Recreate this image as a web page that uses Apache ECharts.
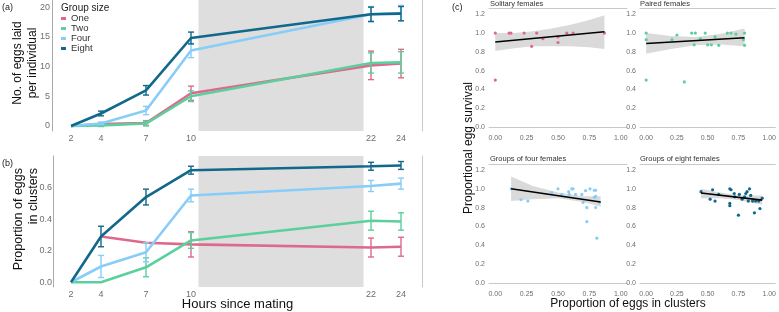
<!DOCTYPE html>
<html>
<head>
<meta charset="utf-8">
<title>Egg laying and clustering by group size</title>
<script src="https://cdn.jsdelivr.net/npm/echarts@6/dist/echarts.min.js"></script>
<style>
  html, body { margin: 0; padding: 0; background: #fff; }
  #main { width: 779px; height: 312px; }
</style>
</head>
<body>
<div id="main"></div>
<script>
// ---- data (a) and (b) ----
var hours = [2, 4, 7, 10, 22, 24];
var hourTicks = [2, 4, 7, 10, 22, 24];
var groups = ['One', 'Two', 'Four', 'Eight'];
var colors = ['#dd6a8d', '#5ccf9c', '#87cdf7', '#11688a'];
var shadeFrom = 10.5, shadeTo = 21.5;

// (a) no. of eggs laid per individual, mean and s.e.
var eggsOne   = [0, 0.3, 0.5, 5.5, 10.2, 10.5];
var eggsTwo   = [0, 0.1, 0.4, 5.0, 10.6, 10.7];
var eggsFour  = [0, 0.4, 2.6, 12.7, 18.8, 19.0];
var eggsEight = [0, 2.1, 6.0, 14.8, 18.8, 18.9];
var eggsErrOne   = [0, 0.3, 0.4, 1.2, 2.4, 2.4];
var eggsErrTwo   = [0, 0.2, 0.4, 0.9, 1.7, 1.8];
var eggsErrFour  = [0, 0.2, 0.7, 1.2, 1.3, 1.3];
var eggsErrEight = [0, 0.4, 0.8, 1.0, 1.2, 1.2];
var eggTicks = [0, 5, 10, 15, 20];

// (b) proportion of eggs in clusters, mean and s.e.
var propOne   = [null, 0.29, 0.25, 0.24, 0.22, 0.225];
var propTwo   = [0, 0, 0.095, 0.265, 0.39, 0.385];
var propFour  = [0, 0.10, 0.19, 0.55, 0.61, 0.625];
var propEight = [0, 0.29, 0.54, 0.71, 0.735, 0.74];
var propErrOne   = [null, 0, 0, 0.08, 0.06, 0.06];
var propErrTwo   = [0, 0, 0.06, 0.05, 0.06, 0.055];
var propErrFour  = [0, 0.07, 0.06, 0.04, 0.035, 0.035];
var propErrEight = [0, 0.065, 0.05, 0.025, 0.025, 0.025];
var propTicks = [0, 0.2, 0.4, 0.6];

// ---- data (c) ----
var facetTitles = ['Solitary females', 'Paired females', 'Groups of four females', 'Groups of eight females'];
var survTicks = [0, 0.2, 0.4, 0.6, 0.8, 1.0, 1.2];
var clusTicks = [0, 0.25, 0.5, 0.75, 1];

var soloX = [0, 0, 0.11, 0.125, 0.23, 0.29, 0.33, 0.38, 0.50, 0.50, 0.57, 0.62, 0.87];
var soloY = [1.0, 0.5, 1.0, 1.0, 1.0, 0.86, 1.0, 0.94, 0.96, 0.90, 1.0, 1.0, 1.0];
var pairX = [0, 0, 0, 0.21, 0.25, 0.31, 0.37, 0.40, 0.39, 0.44, 0.48, 0.50, 0.53, 0.56, 0.59, 0.66, 0.69, 0.73, 0.80, 0.79, 0.80];
var pairY = [1.0, 0.93, 0.50, 0.93, 0.98, 0.48, 1.0, 1.0, 0.875, 0.94, 1.0, 0.875, 0.875, 0.96, 0.87, 1.0, 1.0, 0.99, 1.0, 0.93, 0.87];
var fourX = [0.126, 0.205, 0.26, 0.45, 0.50, 0.53, 0.585, 0.59, 0.61, 0.62, 0.64, 0.69, 0.70, 0.72, 0.73, 0.73, 0.755, 0.79, 0.80, 0.79, 0.80, 0.80, 0.81, 0.83];
var fourY = [1.0, 0.886, 0.87, 0.96, 1.0, 0.94, 0.97, 0.94, 1.0, 1.0, 0.94, 0.94, 0.855, 0.98, 0.80, 0.65, 1.0, 0.985, 0.985, 0.91, 0.92, 0.80, 0.475, 0.855];
var eightX = [0.446, 0.52, 0.54, 0.56, 0.59, 0.68, 0.69, 0.68, 0.68, 0.716, 0.72, 0.75, 0.757, 0.78, 0.80, 0.81, 0.82, 0.84, 0.83, 0.85, 0.865, 0.88, 0.89, 0.915, 0.925, 0.943];
var eightY = [0.97, 0.89, 0.99, 0.87, 0.94, 1.0, 0.99, 0.845, 0.82, 0.95, 0.915, 0.72, 0.94, 0.89, 0.915, 0.95, 0.97, 1.0, 0.87, 0.93, 0.87, 0.745, 0.87, 0.87, 0.79, 0.90];

// fitted lines (end points) and confidence bands
var soloFitX = [0, 0.87],      soloFitY = [0.905, 1.015];
var pairFitX = [0, 0.8],       pairFitY = [0.89, 0.95];
var fourFitX = [0.126, 0.84],  fourFitY = [1.0, 0.86];
var eightFitX = [0.446, 0.943], eightFitY = [0.955, 0.88];

var soloBandX = [0, 0.15, 0.3, 0.45, 0.6, 0.75, 0.87];
var soloBandLo = [0.81, 0.84, 0.86, 0.86, 0.86, 0.85, 0.83];
var soloBandHi = [1.00, 1.00, 1.02, 1.05, 1.09, 1.14, 1.19];
var pairBandX = [0, 0.2, 0.4, 0.6, 0.8];
var pairBandLo = [0.78, 0.83, 0.87, 0.88, 0.86];
var pairBandHi = [1.00, 0.97, 0.96, 0.99, 1.05];
var fourBandX = [0.126, 0.3, 0.5, 0.7, 0.84];
var fourBandLo = [0.87, 0.89, 0.90, 0.86, 0.81];
var fourBandHi = [1.13, 1.03, 0.96, 0.92, 0.92];
var eightBandX = [0.446, 0.6, 0.75, 0.943];
var eightBandLo = [0.90, 0.90, 0.88, 0.83];
var eightBandHi = [1.00, 0.96, 0.93, 0.93];

// ---- chart ----
var chart = echarts.init(document.getElementById('main'), null, {renderer: 'canvas'});
var FONT = '"Liberation Sans", Arial, sans-serif';
var tickGrey = '#6e6e6e';
var lineGrey = '#c8c8c8';

function pairs(xs, ys) {
  var out = [];
  for (var i = 0; i < xs.length; i++) {
    if (ys[i] !== null) out.push([xs[i], ys[i]]);
  }
  return out;
}
function triples(xs, ys, es) {
  var out = [];
  for (var i = 0; i < xs.length; i++) {
    if (ys[i] !== null) out.push([xs[i], ys[i], es[i]]);
  }
  return out;
}

function errorBar(params, api) {
  var x = api.value(0), y = api.value(1), e = api.value(2);
  if (!e) return null;
  var hi = api.coord([x, y + e]);
  var lo = api.coord([x, y - e]);
  var w = 3;
  var st = {stroke: api.visual('color'), lineWidth: 1.4};
  return {
    type: 'group',
    children: [
      {type: 'line', shape: {x1: hi[0], y1: hi[1], x2: lo[0], y2: lo[1]}, style: st},
      {type: 'line', shape: {x1: hi[0] - w, y1: hi[1], x2: hi[0] + w, y2: hi[1]}, style: st},
      {type: 'line', shape: {x1: lo[0] - w, y1: lo[1], x2: lo[0] + w, y2: lo[1]}, style: st}
    ]
  };
}

function bandItem(bx, lo, hi) {
  return function (params, api) {
    var pts = [];
    for (var i = 0; i < bx.length; i++) pts.push(api.coord([bx[i], hi[i]]));
    for (var j = bx.length - 1; j >= 0; j--) pts.push(api.coord([bx[j], lo[j]]));
    return {type: 'polygon', shape: {points: pts}, style: {fill: '#d4d4d4', opacity: 0.85}};
  };
}

var grids = [
  {left: 52, top: 0, width: 370, height: 131},
  {left: 53, top: 156, width: 369, height: 131},
  {left: 489, top: 8.7, width: 138, height: 124},
  {left: 640, top: 8.7, width: 138, height: 124},
  {left: 489, top: 164.4, width: 138, height: 124},
  {left: 640, top: 164.4, width: 138, height: 124}
];

var xAxes = [];
var yAxes = [];

// hours axes
[0, 1].forEach(function (g) {
  xAxes.push({
    type: 'value', gridIndex: g, min: g === 0 ? 0.733 : 0.8, max: 25.4,
    axisLine: {show: false}, axisTick: {show: false}, splitLine: {show: false},
    axisLabel: {customValues: hourTicks, fontSize: 9, color: tickGrey, margin: 3, fontFamily: FONT},
    name: g === 1 ? 'Hours since mating' : '', nameLocation: 'middle', nameGap: 11, nameMoveOverlap: false,
    nameTextStyle: {fontSize: 13, color: '#111', fontFamily: FONT}
  });
});
yAxes.push({
  type: 'value', gridIndex: 0, min: -0.85, max: 21.2,
  axisLine: {show: true, lineStyle: {color: '#aaaaaa', width: 1}}, axisTick: {show: false}, splitLine: {show: false},
  axisLabel: {customValues: eggTicks, fontSize: 9, color: tickGrey, margin: 2, fontFamily: FONT}
});
yAxes.push({
  type: 'value', gridIndex: 1, min: -0.03, max: 0.80,
  axisLine: {show: true, lineStyle: {color: '#aaaaaa', width: 1}}, axisTick: {show: false}, splitLine: {show: false},
  axisLabel: {customValues: propTicks, fontSize: 9, color: tickGrey, margin: 1, fontFamily: FONT,
    formatter: function (v) { return v.toFixed(1); }}
});
// right-hand frame lines of (a) and (b)
[0, 1].forEach(function (g) {
  yAxes.push({
    type: 'value', gridIndex: g, position: 'right', min: 0, max: 1,
    axisLine: {show: true, lineStyle: {color: lineGrey, width: 1}},
    axisTick: {show: false}, axisLabel: {show: false}, splitLine: {show: false}
  });
});

// facet axes: x bottom 2..5, y 4..7, strip lines on top 6..9
[2, 3, 4, 5].forEach(function (g) {
  xAxes.push({
    type: 'value', gridIndex: g, min: -0.05, max: 1.05,
    axisLine: {show: true, lineStyle: {color: lineGrey, width: 1}}, axisTick: {show: false}, splitLine: {show: false},
    axisLabel: {customValues: clusTicks, fontSize: 7, color: tickGrey, margin: 2, fontFamily: FONT,
      formatter: function (v) { return v.toFixed(2); }}
  });
  yAxes.push({
    type: 'value', gridIndex: g, min: -0.06, max: 1.26,
    axisLine: {show: false}, axisTick: {show: false}, splitLine: {show: false},
    axisLabel: {customValues: survTicks, fontSize: 7, color: tickGrey, margin: 4, fontFamily: FONT,
      formatter: function (v) { return v.toFixed(1); }}
  });
});
[2, 3, 4, 5].forEach(function (g) {
  xAxes.push({
    type: 'value', gridIndex: g, position: 'top', min: -0.05, max: 1.05,
    axisLine: {show: true, lineStyle: {color: lineGrey, width: 1}},
    axisTick: {show: false}, axisLabel: {show: false}, splitLine: {show: false}
  });
});

var series = [];

// grey shading in (a) and (b)
[0, 1].forEach(function (g) {
  series.push({
    type: 'line', name: 'shade' + g, xAxisIndex: g, yAxisIndex: g, data: [], z: 1, silent: true,
    markArea: {silent: true, itemStyle: {color: '#dedede'}, data: [[{xAxis: shadeFrom}, {xAxis: shadeTo}]]}
  });
});

var eggVals = [eggsOne, eggsTwo, eggsFour, eggsEight];
var eggErrs = [eggsErrOne, eggsErrTwo, eggsErrFour, eggsErrEight];
var propVals = [propOne, propTwo, propFour, propEight];
var propErrs = [propErrOne, propErrTwo, propErrFour, propErrEight];

function addGroupSeries(g, vals, errs) {
  groups.forEach(function (name, k) {
    series.push({
      type: 'line', name: name, xAxisIndex: g, yAxisIndex: g,
      data: pairs(hours, vals[k]), symbol: 'none', z: 3 + k,
      lineStyle: {color: colors[k], width: 2.6}, itemStyle: {color: colors[k]}
    });
    series.push({
      type: 'custom', name: name, xAxisIndex: g, yAxisIndex: g,
      data: triples(hours, vals[k], errs[k]), renderItem: errorBar, z: 3 + k,
      itemStyle: {color: colors[k]}
    });
  });
}
addGroupSeries(0, eggVals, eggErrs);
addGroupSeries(1, propVals, propErrs);

var facetPts = [[soloX, soloY], [pairX, pairY], [fourX, fourY], [eightX, eightY]];
var facetFit = [[soloFitX, soloFitY], [pairFitX, pairFitY], [fourFitX, fourFitY], [eightFitX, eightFitY]];
var facetBand = [
  [soloBandX, soloBandLo, soloBandHi],
  [pairBandX, pairBandLo, pairBandHi],
  [fourBandX, fourBandLo, fourBandHi],
  [eightBandX, eightBandLo, eightBandHi]
];

facetPts.forEach(function (p, k) {
  var ax = 2 + k;   // x axis index
  var ay = 4 + k;   // y axis index
  var b = facetBand[k];
  series.push({
    type: 'custom', name: 'band' + k, xAxisIndex: ax, yAxisIndex: ay,
    data: [[b[0][0], b[1][0]]], renderItem: bandItem(b[0], b[1], b[2]), z: 2, silent: true
  });
  series.push({
    type: 'scatter', name: 'pts' + k, xAxisIndex: ax, yAxisIndex: ay,
    data: pairs(p[0], p[1]), symbolSize: 3.2, z: 3,
    itemStyle: {color: colors[k], opacity: 1}
  });
  series.push({
    type: 'line', name: 'fit' + k, xAxisIndex: ax, yAxisIndex: ay,
    data: pairs(facetFit[k][0], facetFit[k][1]), symbol: 'none', z: 4,
    lineStyle: {color: '#000', width: 1.6}
  });
});

var titleStyle = {fontSize: 9, color: '#222', fontWeight: 'normal', fontFamily: FONT};
var stripStyle = {fontSize: 7.5, color: '#333', fontWeight: 'normal', fontFamily: FONT};
var titles = [
  {text: '(a)', left: 2, top: 3, padding: 0, textStyle: titleStyle},
  {text: '(b)', left: 2, top: 159, padding: 0, textStyle: titleStyle},
  {text: '(c)', left: 452, top: 3, padding: 0, textStyle: titleStyle},
  {text: 'Group size', left: 61, top: 3, padding: 0, textStyle: {fontSize: 10, color: '#222', fontWeight: 'normal', fontFamily: FONT}},
  {text: facetTitles[0], left: 490, top: 0, padding: 0, textStyle: stripStyle},
  {text: facetTitles[1], left: 640, top: 0, padding: 0, textStyle: stripStyle},
  {text: facetTitles[2], left: 490, top: 155, padding: 0, textStyle: stripStyle},
  {text: facetTitles[3], left: 640, top: 155, padding: 0, textStyle: stripStyle}
];

var option = {
  animation: false,
  backgroundColor: '#ffffff',
  title: titles,
  legend: {
    data: groups, orient: 'vertical', left: 61, top: 13.5, padding: 0, itemGap: 0,
    itemWidth: 5, itemHeight: 3, icon: 'rect', selectedMode: false,
    textStyle: {fontSize: 9.5, lineHeight: 9, color: '#333', fontFamily: FONT}
  },
  grid: grids,
  xAxis: xAxes,
  yAxis: yAxes,
  series: series,
  graphic: [
    {type: 'text', x: 25.5, y: 63, rotation: Math.PI / 2,
      style: {text: 'No. of eggs laid\nper individual', align: 'center', verticalAlign: 'middle',
        fontSize: 12, lineHeight: 15, fill: '#111', fontFamily: FONT}},
    {type: 'text', x: 26.5, y: 168, rotation: Math.PI / 2,
      style: {text: 'Proportion of eggs\nin clusters', align: 'right', verticalAlign: 'middle',
        fontSize: 12.5, lineHeight: 15, fill: '#111', fontFamily: FONT}},
    {type: 'text', x: 469, y: 148, rotation: Math.PI / 2,
      style: {text: 'Proportional egg survival', align: 'center', verticalAlign: 'middle',
        fontSize: 12, fill: '#111', fontFamily: FONT}},
    {type: 'text', x: 628, y: 304,
      style: {text: 'Proportion of eggs in clusters', align: 'center', verticalAlign: 'middle',
        fontSize: 12, fill: '#111', fontFamily: FONT}}
  ]
};

chart.setOption(option);
</script>
</body>
</html>
